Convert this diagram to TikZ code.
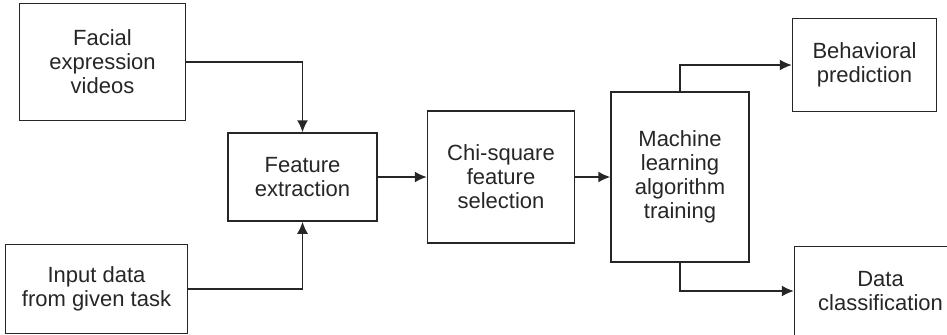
\documentclass[tikz,border=0pt]{standalone}
\usepackage{fontspec}
\setmainfont{Liberation Sans}
\usetikzlibrary{positioning, arrows.meta}
\definecolor{ink}{HTML}{262626}

\begin{document}
\begin{tikzpicture}[->, >={Latex[length=6pt,width=5.5pt]}, line width=0.75pt, draw=ink,
    box/.style={draw=ink, rectangle, align=center, text=ink, inner sep=2pt,
      font=\fontsize{11}{12}\selectfont}]
    \useasboundingbox (0,0) rectangle (473.5pt,-167pt);
    \node[box, minimum width=74.5pt, minimum height=44pt] (fe) at (151.25pt,-88.5pt) {Feature\\extraction};
    \node[box, minimum width=83pt, minimum height=58.5pt, above left=5.5pt and 20.5pt of fe] (fev) {Facial\\expression\\videos};
    \node[box, minimum width=91pt, minimum height=44.5pt, below left=11pt and 19.5pt of fe] (inp) {Input data\\from given task};
    \node[box, minimum width=73.5pt, minimum height=66pt, right=24.5pt of fe] (chi) {Chi-square\\feature\\selection};
    \node[box, minimum width=69pt, minimum height=85pt, right=17.5pt of chi] (ml) {Machine\\learning\\algorithm\\training};
    \node[box, minimum width=72pt, minimum height=46.5pt, above right=-10.5pt and 21pt of ml] (bp) {Behavioral\\prediction};
    \node[box, minimum width=86pt, minimum height=44.5pt, below right=-8.5pt and 22pt of ml] (dc) {Data\\classification};
    \draw (fev.east) -| (fe.north);
    \draw (inp.east) -| (fe.south);
    \draw (fe) -- (chi);
    \draw (chi.east) -- (chi.east -| ml.west);
    \draw (ml.north) |- (bp.west);
    \draw (ml.south) |- (dc.west);
  \end{tikzpicture}
\end{document}
